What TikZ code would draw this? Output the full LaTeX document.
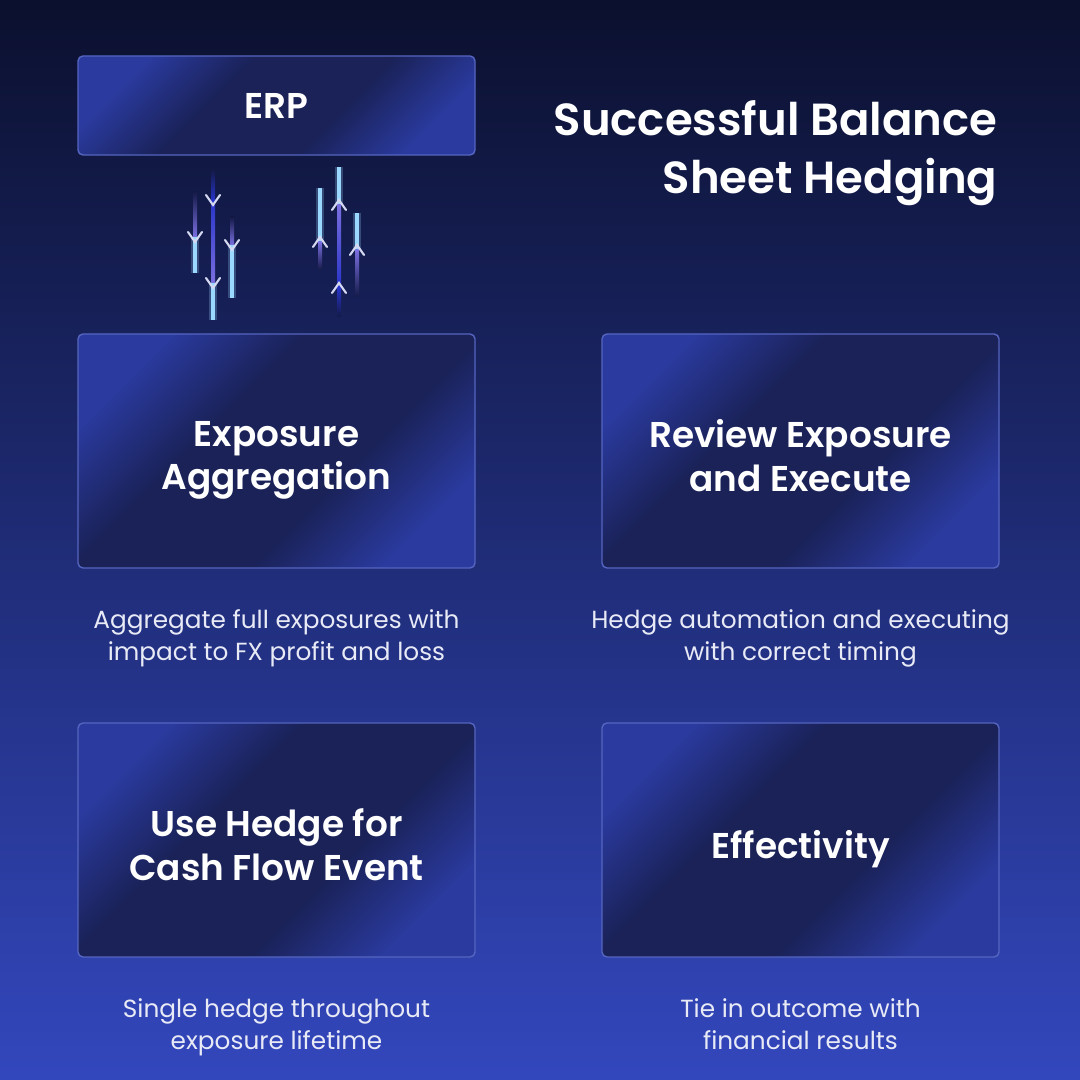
\documentclass[tikz,border=0pt]{standalone}
\usepackage{fontspec}
\setmainfont{Poppins}[BoldFont={Poppins SemiBold}]
\usepackage{tikz}
\usetikzlibrary{positioning}

\definecolor{bgtop}{HTML}{0B102E}
\definecolor{bgmid}{HTML}{1C2670}
\definecolor{bgbot}{HTML}{3347BD}
\definecolor{boxlight}{HTML}{2A3A9E}
\definecolor{boxdark}{HTML}{1A2258}
\definecolor{boxline}{HTML}{5565C0}
\definecolor{desctext}{HTML}{E8EAF6}
\definecolor{glow}{HTML}{9AD8FF}
\definecolor{haze}{HTML}{7A6FE0}
\definecolor{deepblue}{HTML}{2733C8}
\definecolor{fadebg}{HTML}{141A48}
\definecolor{chevgray}{HTML}{D4D8F0}

\pgfdeclarehorizontalshading{cardshade}{100bp}{color(0bp)=(boxlight); color(25bp)=(boxlight);
  color(40bp)=(boxdark); color(60bp)=(boxdark); color(75bp)=(boxlight); color(100bp)=(boxlight)}

\begin{document}
\begin{tikzpicture}[
    card/.style={rectangle,rounded corners=0.05cm,draw=boxline,line width=0.4pt,
      shading=cardshade,shading angle=135,
      minimum width=3.97cm,text=white,align=center,
      font=\bfseries\fontsize{10.2}{12.5}\selectfont},
    bigcard/.style={card,minimum height=2.34cm},
    cardtext/.style={text=white,align=center,yshift=-0.045cm,text depth=0pt,
      font=\bfseries\fontsize{10.2}{12.5}\selectfont},
    desc/.style={text=desctext,align=center,inner sep=0pt,
      font=\fontsize{7.05}{9.1}\selectfont},
    chev/.style={draw=chevgray,line width=0.6pt,line cap=round},
    node distance=0.4cm]

  % background
  \shade[top color=bgtop,middle color=bgmid,bottom color=bgbot] (0,0) rectangle (10.8,10.8);
  \useasboundingbox (0,0) rectangle (10.8,10.8);

  % title
  \node[anchor=east,text=white,align=right,inner sep=0pt,
    font=\bfseries\fontsize{12.8}{16.4}\selectfont] (title) at (9.98,9.27)
    {Successful Balance\\Sheet Hedging};

  % cards
  \node[card,minimum height=0.99cm] (erp) at (2.765,9.745) {ERP};
  \node[bigcard] (agg) at (2.765,6.29) {};
  \node[bigcard] (rev) at (8.005,6.29) {};
  \node[bigcard] (use) at (2.765,2.40) {};
  \node[bigcard] (eff) at (8.005,2.40) {};
  \node[cardtext] (aggname) at (agg) {Exposure\\Aggregation};
  \node[cardtext] (revname) at (rev) {Review Exposure\\and Execute};
  \node[cardtext] (usename) at (use) {Use Hedge for\\Cash Flow Event};
  \node[cardtext] (effname) at (eff) {Effectivity};

  % descriptions
  \node[desc,below=of agg] (aggtxt) {Aggregate full exposures with\\impact to FX profit and loss};
  \node[desc,below=of rev] (revtxt) {Hedge automation and executing\\with correct timing};
  \node[desc,below=of use] (usetxt) {Single hedge throughout\\exposure lifetime};
  \node[desc,below=of eff] (efftxt) {Tie in outcome with\\financial results};

  % flow down (ERP -> aggregation)
  \fill[glow,opacity=0.25] (1.91,8.43) rectangle (1.99,8.07);
  \fill[glow,opacity=0.25] (2.09,7.97) rectangle (2.17,7.60);
  \fill[glow,opacity=0.25] (2.28,8.35) rectangle (2.36,7.82);
  \shade[top color=fadebg,bottom color=haze] (1.93,8.88) rectangle (1.97,8.43);
  \fill[glow] (1.93,8.43) rectangle (1.97,8.07);
  \shade[top color=fadebg,bottom color=deepblue] (2.11,9.10) rectangle (2.15,8.80);
  \shade[top color=deepblue,bottom color=haze] (2.11,8.80) rectangle (2.15,7.97);
  \fill[glow] (2.11,7.97) rectangle (2.15,7.60);
  \shade[top color=fadebg,bottom color=haze] (2.30,8.63) rectangle (2.34,8.35);
  \fill[glow] (2.30,8.35) rectangle (2.34,7.82);
  \draw[chev] (1.88,8.48) -- (1.95,8.38) -- (2.02,8.48);
  \draw[chev] (2.06,8.85) -- (2.13,8.75) -- (2.20,8.85);
  \draw[chev] (2.06,8.02) -- (2.13,7.92) -- (2.20,8.02);
  \draw[chev] (2.25,8.40) -- (2.32,8.30) -- (2.39,8.40);

  % flow up (aggregation -> ERP)
  \fill[glow,opacity=0.25] (3.16,8.92) rectangle (3.24,8.38);
  \fill[glow,opacity=0.25] (3.35,9.13) rectangle (3.43,8.75);
  \fill[glow,opacity=0.25] (3.53,8.67) rectangle (3.61,8.30);
  \fill[glow] (3.18,8.92) rectangle (3.22,8.38);
  \shade[top color=haze,bottom color=fadebg] (3.18,8.38) rectangle (3.22,8.10);
  \fill[glow] (3.37,9.13) rectangle (3.41,8.75);
  \shade[top color=haze,bottom color=deepblue] (3.37,8.75) rectangle (3.41,7.92);
  \shade[top color=deepblue,bottom color=fadebg] (3.37,7.92) rectangle (3.41,7.63);
  \fill[glow] (3.55,8.67) rectangle (3.59,8.30);
  \shade[top color=haze,bottom color=fadebg] (3.55,8.30) rectangle (3.59,7.83);
  \draw[chev] (3.13,8.33) -- (3.20,8.43) -- (3.27,8.33);
  \draw[chev] (3.32,8.70) -- (3.39,8.80) -- (3.46,8.70);
  \draw[chev] (3.32,7.87) -- (3.39,7.97) -- (3.46,7.87);
  \draw[chev] (3.50,8.25) -- (3.57,8.35) -- (3.64,8.25);
\end{tikzpicture}
\end{document}
